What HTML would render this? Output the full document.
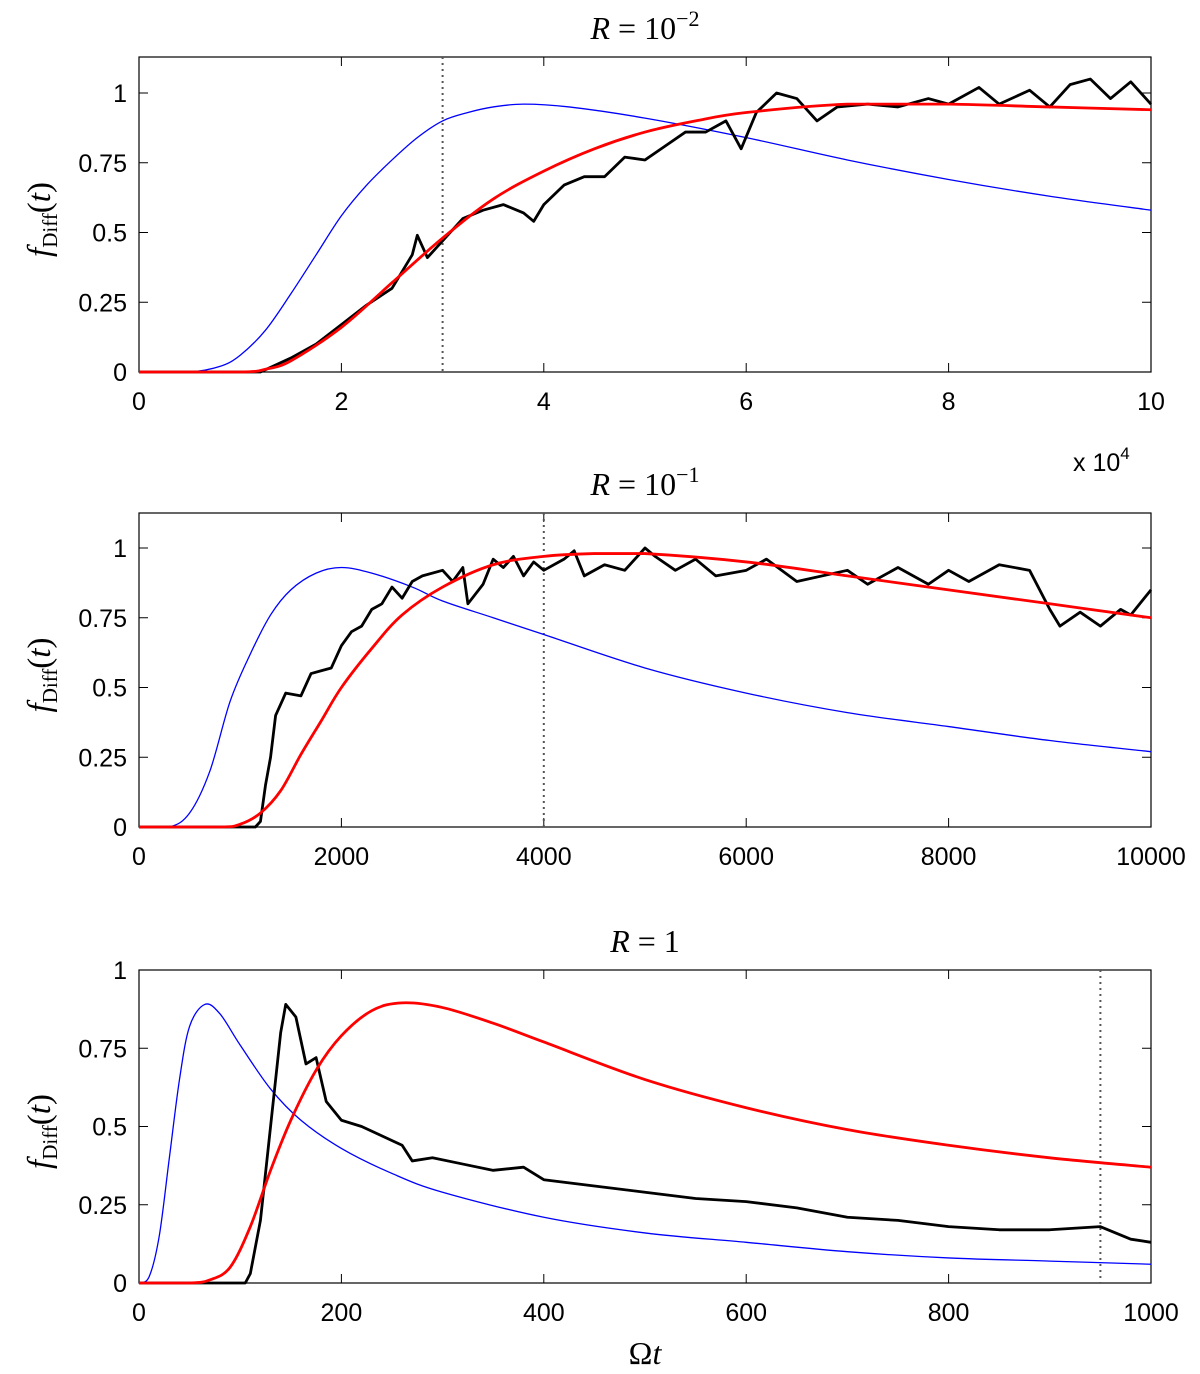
<!DOCTYPE html>
<html><head><meta charset="utf-8"><style>
body{margin:0;background:#fff}
svg text{font-family:"Liberation Sans",sans-serif;font-size:25px;fill:#000}
.it{font-family:"Liberation Serif",serif;font-style:italic;font-size:33px}
.rm{font-family:"Liberation Serif",serif;font-size:32px}
</style></head><body>
<svg id="c" width="1200" height="1369" xmlns="http://www.w3.org/2000/svg"></svg>
<script>
// Panel 1 data (x in units of 1e4)
const p1Blue=[[0,0],[0.5,0],[0.8,0.02],[1,0.06],[1.25,0.15],[1.5,0.28],[1.75,0.42],[2,0.56],[2.25,0.67],[2.5,0.76],[2.75,0.84],[3,0.9],[3.25,0.93],[3.5,0.95],[3.8,0.96],[4.25,0.95],[5,0.91],[6,0.84],[7,0.76],[8,0.69],[9,0.63],[10,0.58]];
const p1Red=[[0,0],[1,0],[1.25,0.01],[1.5,0.04],[2,0.16],[2.5,0.32],[3,0.48],[3.5,0.62],[4,0.72],[4.5,0.8],[5,0.86],[5.5,0.9],[6,0.93],[7,0.96],[8,0.96],[9,0.95],[10,0.94]];
const p1Black=[[0,0],[1.2,0],[1.5,0.05],[1.75,0.1],[2,0.17],[2.25,0.24],[2.5,0.3],[2.7,0.42],[2.75,0.49],[2.85,0.41],[3,0.47],[3.2,0.55],[3.4,0.58],[3.6,0.6],[3.8,0.57],[3.9,0.54],[4,0.6],[4.2,0.67],[4.4,0.7],[4.6,0.7],[4.8,0.77],[5,0.76],[5.2,0.81],[5.4,0.86],[5.6,0.86],[5.8,0.9],[5.95,0.8],[6.1,0.93],[6.3,1.0],[6.5,0.98],[6.7,0.9],[6.9,0.95],[7.2,0.96],[7.5,0.95],[7.8,0.98],[8,0.96],[8.3,1.02],[8.5,0.96],[8.8,1.01],[9,0.95],[9.2,1.03],[9.4,1.05],[9.6,0.98],[9.8,1.04],[10,0.96]];
const p1Ticks=[0,2,4,6,8,10];
// Panel 2 data
const p2Blue=[[0,0],[300,0],[500,0.05],[700,0.2],[900,0.45],[1100,0.62],[1300,0.76],[1500,0.85],[1750,0.91],[2000,0.93],[2300,0.91],[2700,0.86],[3000,0.81],[3500,0.75],[4000,0.69],[5000,0.57],[6000,0.48],[7000,0.41],[8000,0.36],[9000,0.31],[10000,0.27]];
const p2Red=[[0,0],[800,0],[1000,0.01],[1200,0.05],[1400,0.13],[1600,0.26],[1800,0.38],[2000,0.5],[2300,0.64],[2600,0.76],[3000,0.86],[3500,0.94],[4000,0.97],[4500,0.98],[5000,0.98],[6000,0.95],[7000,0.9],[8000,0.85],[9000,0.8],[10000,0.75]];
const p2Black=[[0,0],[1150,0],[1200,0.02],[1250,0.15],[1300,0.25],[1350,0.4],[1450,0.48],[1600,0.47],[1700,0.55],[1800,0.56],[1900,0.57],[2000,0.65],[2100,0.7],[2200,0.72],[2300,0.78],[2400,0.8],[2500,0.86],[2600,0.82],[2700,0.88],[2800,0.9],[3000,0.92],[3100,0.88],[3200,0.93],[3250,0.8],[3400,0.87],[3500,0.96],[3600,0.93],[3700,0.97],[3800,0.9],[3900,0.95],[4000,0.92],[4200,0.96],[4300,0.99],[4400,0.9],[4600,0.94],[4800,0.92],[5000,1.0],[5100,0.97],[5300,0.92],[5500,0.96],[5700,0.9],[6000,0.92],[6200,0.96],[6500,0.88],[7000,0.92],[7200,0.87],[7500,0.93],[7800,0.87],[8000,0.92],[8200,0.88],[8500,0.94],[8800,0.92],[9000,0.78],[9100,0.72],[9300,0.77],[9500,0.72],[9700,0.78],[9800,0.76],[10000,0.85]];
const p2Ticks=[0,2000,4000,6000,8000,10000];
// Panel 3 data
const p3Blue=[[0,0],[10,0.02],[20,0.15],[30,0.4],[40,0.65],[50,0.82],[65,0.89],[80,0.86],[100,0.76],[130,0.62],[160,0.52],[200,0.43],[250,0.35],[300,0.29],[400,0.21],[500,0.16],[600,0.13],[700,0.1],[800,0.08],[900,0.07],[1000,0.06]];
const p3Red=[[0,0],[50,0],[70,0.01],[90,0.05],[110,0.18],[130,0.36],[150,0.52],[175,0.68],[200,0.79],[230,0.87],[260,0.895],[300,0.88],[350,0.83],[400,0.77],[500,0.65],[600,0.56],[700,0.49],[800,0.44],[900,0.4],[1000,0.37]];
const p3Black=[[0,0],[105,0],[110,0.03],[120,0.2],[130,0.5],[140,0.8],[145,0.89],[155,0.85],[165,0.7],[175,0.72],[185,0.58],[200,0.52],[220,0.5],[240,0.47],[260,0.44],[270,0.39],[290,0.4],[320,0.38],[350,0.36],[380,0.37],[400,0.33],[450,0.31],[500,0.29],[550,0.27],[600,0.26],[650,0.24],[700,0.21],[750,0.2],[800,0.18],[850,0.17],[900,0.17],[950,0.18],[980,0.14],[1000,0.13]];
const p3Ticks=[0,200,400,600,800,1000];
const yTicks=[0,0.25,0.5,0.75,1];
const yLabels=["0","0.25","0.5","0.75","1"];

const svg=document.getElementById('c');
const NS='http://www.w3.org/2000/svg';
function mk(t,a,p){const e=document.createElementNS(NS,t);for(const k in a)e.setAttribute(k,a[k]);(p||svg).appendChild(e);return e;}
function smoothPath(pts){
  let d='M'+pts[0][0]+','+pts[0][1];
  for(let i=0;i<pts.length-1;i++){
    const p0=pts[Math.max(0,i-1)],p1=pts[i],p2=pts[i+1],p3=pts[Math.min(pts.length-1,i+2)];
    let c1y=p1[1]+(p2[1]-p0[1])/6, c2y=p2[1]-(p3[1]-p1[1])/6;
    const lo=Math.min(p1[1],p2[1]),hi=Math.max(p1[1],p2[1]);
    if(p1[1]===p2[1]){c1y=p1[1];c2y=p2[1];}
    d+=' C'+(p1[0]+(p2[0]-p0[0])/6)+','+c1y+' '+(p2[0]-(p3[0]-p1[0])/6)+','+c2y+' '+p2[0]+','+p2[1];
  }
  return d;
}
function panel(id,top,y0,y1,xmax,ticks,blue,red,black,dot,title){
  const L=139,R=1151,W=R-L;
  const g=mk('g',{});
  
  
  const sx=v=>L+v/xmax*W, sy=v=>y0-v*(y0-y1);
  const box=mk('rect',{x:L,y:top,width:W,height:y0-top,fill:'none',stroke:'#000','stroke-width':1.2},g);
  
  
  ticks.forEach(t=>{const x=sx(t);
    mk('line',{x1:x,x2:x,y1:y0,y2:y0-9,stroke:'#000'},g);mk('line',{x1:x,x2:x,y1:top,y2:top+9,stroke:'#000'},g);
    const tx=mk('text',{x:x,y:y0+38,'text-anchor':'middle'},g);tx.textContent=t;
    
    });
  yTicks.forEach((t,i)=>{const y=sy(t);
    mk('line',{x1:L,x2:L+9,y1:y,y2:y,stroke:'#000'},g);mk('line',{x1:R,x2:R-9,y1:y,y2:y,stroke:'#000'},g);
    const tx=mk('text',{x:L-12,y:y+9,'text-anchor':'end'},g);tx.textContent=yLabels[i];
    
    });
  const d=mk('line',{x1:sx(dot),x2:sx(dot),y1:top,y2:y0,stroke:'#555','stroke-width':2,'stroke-dasharray':'2,4'},g);
  
  
  const line=(arr,c,w,n,sm)=>{const pts=arr.map(q=>[sx(q[0]),sy(q[1])]);
    const p=mk('path',{d:sm?smoothPath(pts):('M'+pts.map(q=>q[0]+','+q[1]).join(' L')),fill:'none',stroke:c,'stroke-width':w,'stroke-linejoin':'round'},g);
    
    };
  line(blue,'#0000ff',1.3,'blue-curve',true);
  line(black,'#000',2.8,'black-curve',false);
  line(red,'#ff0000',2.8,'red-curve',true);
  const tt=mk('text',{x:645,y:top-18,'text-anchor':'middle',class:'rm'},g);
  tt.innerHTML=title;
  
  
  const yl=mk('text',{transform:`translate(50,${(top+y0)/2+5}) rotate(-90)`,'text-anchor':'middle',class:'it'},g);
  yl.innerHTML='f<tspan font-size="21" font-style="normal" dy="7">Diff</tspan><tspan dy="-7" font-style="normal">(</tspan>t<tspan font-style="normal">)</tspan>';
  
  
}
panel('panel-r-0.01',57,372,93,10,p1Ticks,p1Blue,p1Red,p1Black,3,'<tspan font-style="italic">R</tspan> = 10<tspan dy="-13" font-size="22">−2</tspan>');
panel('panel-r-0.1',513,827,548,10000,p2Ticks,p2Blue,p2Red,p2Black,4000,'<tspan font-style="italic">R</tspan> = 10<tspan dy="-13" font-size="22">−1</tspan>');
panel('panel-r-1',970,1283,970,1000,p3Ticks,p3Blue,p3Red,p3Black,950,'<tspan font-style="italic">R</tspan> = 1');
const ex=mk('text',{x:1073,y:471});ex.innerHTML='x 10<tspan dy="-12" font-size="17">4</tspan>';


const xl=mk('text',{x:645,y:1364,'text-anchor':'middle',class:'rm'});xl.innerHTML='Ω<tspan font-style="italic">t</tspan>';


</script>
</body></html>
